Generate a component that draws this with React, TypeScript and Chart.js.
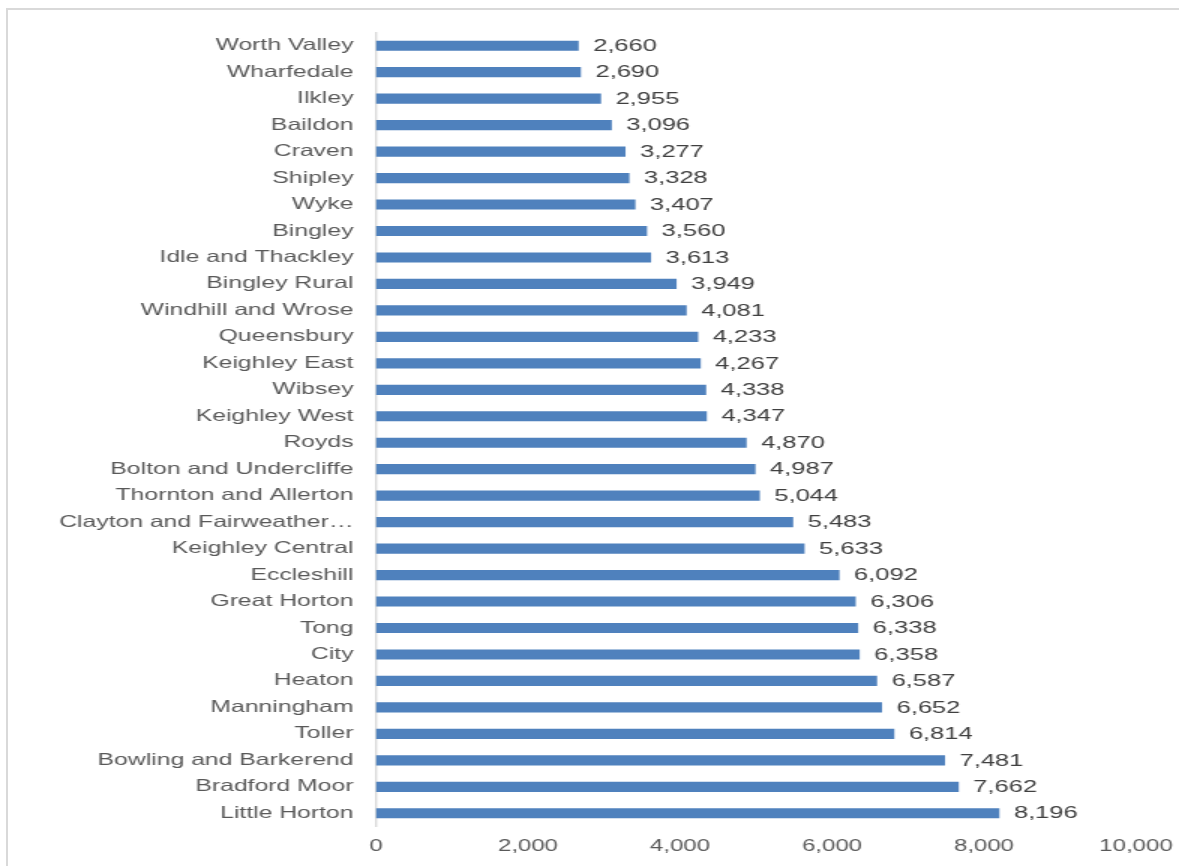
import React, { useEffect, useRef } from "react";
import { Chart, registerables } from "chart.js";

Chart.register(...registerables);

const categories: string[] = [
  "Worth Valley",
  "Wharfedale",
  "Ilkley",
  "Baildon",
  "Craven",
  "Shipley",
  "Wyke",
  "Bingley",
  "Idle and Thackley",
  "Bingley Rural",
  "Windhill and Wrose",
  "Queensbury",
  "Keighley East",
  "Wibsey",
  "Keighley West",
  "Royds",
  "Bolton and Undercliffe",
  "Thornton and Allerton",
  "Clayton and Fairweather…",
  "Keighley Central",
  "Eccleshill",
  "Great Horton",
  "Tong",
  "City",
  "Heaton",
  "Manningham",
  "Toller",
  "Bowling and Barkerend",
  "Bradford Moor",
  "Little Horton",
];

const values: number[] = [
  2660, 2690, 2955, 3096, 3277, 3328, 3407, 3560, 3613, 3949, 4081, 4233, 4267,
  4338, 4347, 4870, 4987, 5044, 5483, 5633, 6092, 6306, 6338, 6358, 6587, 6652,
  6814, 7481, 7662, 8196,
];

const xTicks: number[] = [0, 2000, 4000, 6000, 8000, 10000];

const SCREEN_W = 1179;
const SCREEN_H = 866;
const STRETCH = 1.5;
const LOGICAL_W = SCREEN_W / STRETCH;
const FONT = "'Liberation Sans', Arial, sans-serif";
const RIGHT_PAD = LOGICAL_W - 1136 / STRETCH;
const AREA_TOP = 32.5;
const AREA_BOTTOM = 826.5;
const BOTTOM_PAD = 10;

const fmt = (v: number) => v.toLocaleString("en-US");

const dataLabelPlugin = {
  id: "dataLabels",
  afterDatasetsDraw(chart: any) {
    const ctx = chart.ctx;
    const meta = chart.getDatasetMeta(0);
    ctx.save();
    ctx.font = `17px ${FONT}`;
    ctx.fillStyle = "#404040";
    ctx.textAlign = "left";
    ctx.textBaseline = "middle";
    meta.data.forEach((bar: any, i: number) => {
      const v = chart.data.datasets[0].data[i] as number;
      ctx.fillText(fmt(v), bar.x + 10, bar.y + 0.5);
    });
    ctx.restore();
  },
};

export default function App() {
  const ref = useRef<HTMLCanvasElement | null>(null);

  useEffect(() => {
    if (!ref.current) return;
    const chart = new Chart(ref.current, {
      type: "bar",
      data: {
        labels: categories,
        datasets: [
          {
            data: values,
            backgroundColor: "#4F81BD",
            borderWidth: 0,
            barThickness: 9.5,
          },
        ],
      },
      options: {
        indexAxis: "y",
        responsive: false,
        animation: false,
        devicePixelRatio: 1,
        layout: {
          padding: { left: 0, right: RIGHT_PAD, top: AREA_TOP, bottom: BOTTOM_PAD },
        },
        plugins: {
          legend: { display: false },
          tooltip: { enabled: false },
        },
        scales: {
          x: {
            min: 0,
            max: 10000,
            afterBuildTicks: (scale: any) => {
              scale.ticks = xTicks.map((v) => ({ value: v }));
            },
            afterFit: (scale: any) => {
              scale.height = SCREEN_H - BOTTOM_PAD - AREA_BOTTOM;
              scale.paddingRight = 0;
              scale.paddingLeft = 0;
            },
            grid: { display: false, drawTicks: false },
            border: { display: false },
            ticks: {
              padding: 10,
              color: "#595959",
              font: { family: FONT, size: 16 },
              callback: (v: any) => fmt(Number(v)),
            },
          },
          y: {
            afterFit: (scale: any) => {
              scale.width = 376 / STRETCH;
              scale.paddingTop = 0;
              scale.paddingBottom = 0;
            },
            grid: { display: false, drawTicks: false },
            border: { display: true, color: "#d9d9d9", width: 1.4 },
            ticks: {
              padding: 15,
              color: "#595959",
              font: { family: FONT, size: 16.5 },
              autoSkip: false,
            },
          },
        },
      },
      plugins: [dataLabelPlugin],
    });
    return () => chart.destroy();
  }, []);

  return (
    <div
      style={{
        position: "fixed",
        left: 0,
        top: 0,
        width: SCREEN_W,
        height: SCREEN_H,
        overflow: "hidden",
        background: "#ffffff",
      }}
    >
      <div
        style={{
          position: "absolute",
          left: 6,
          top: 8,
          width: 1300,
          height: 1000,
          border: "2px solid #d9d9d9",
          boxSizing: "border-box",
        }}
      />
      <canvas
        ref={ref}
        width={LOGICAL_W}
        height={SCREEN_H}
        style={{
          position: "absolute",
          left: 0,
          top: 0,
          width: SCREEN_W + "px",
          height: SCREEN_H + "px",
        }}
      />
    </div>
  );
}
